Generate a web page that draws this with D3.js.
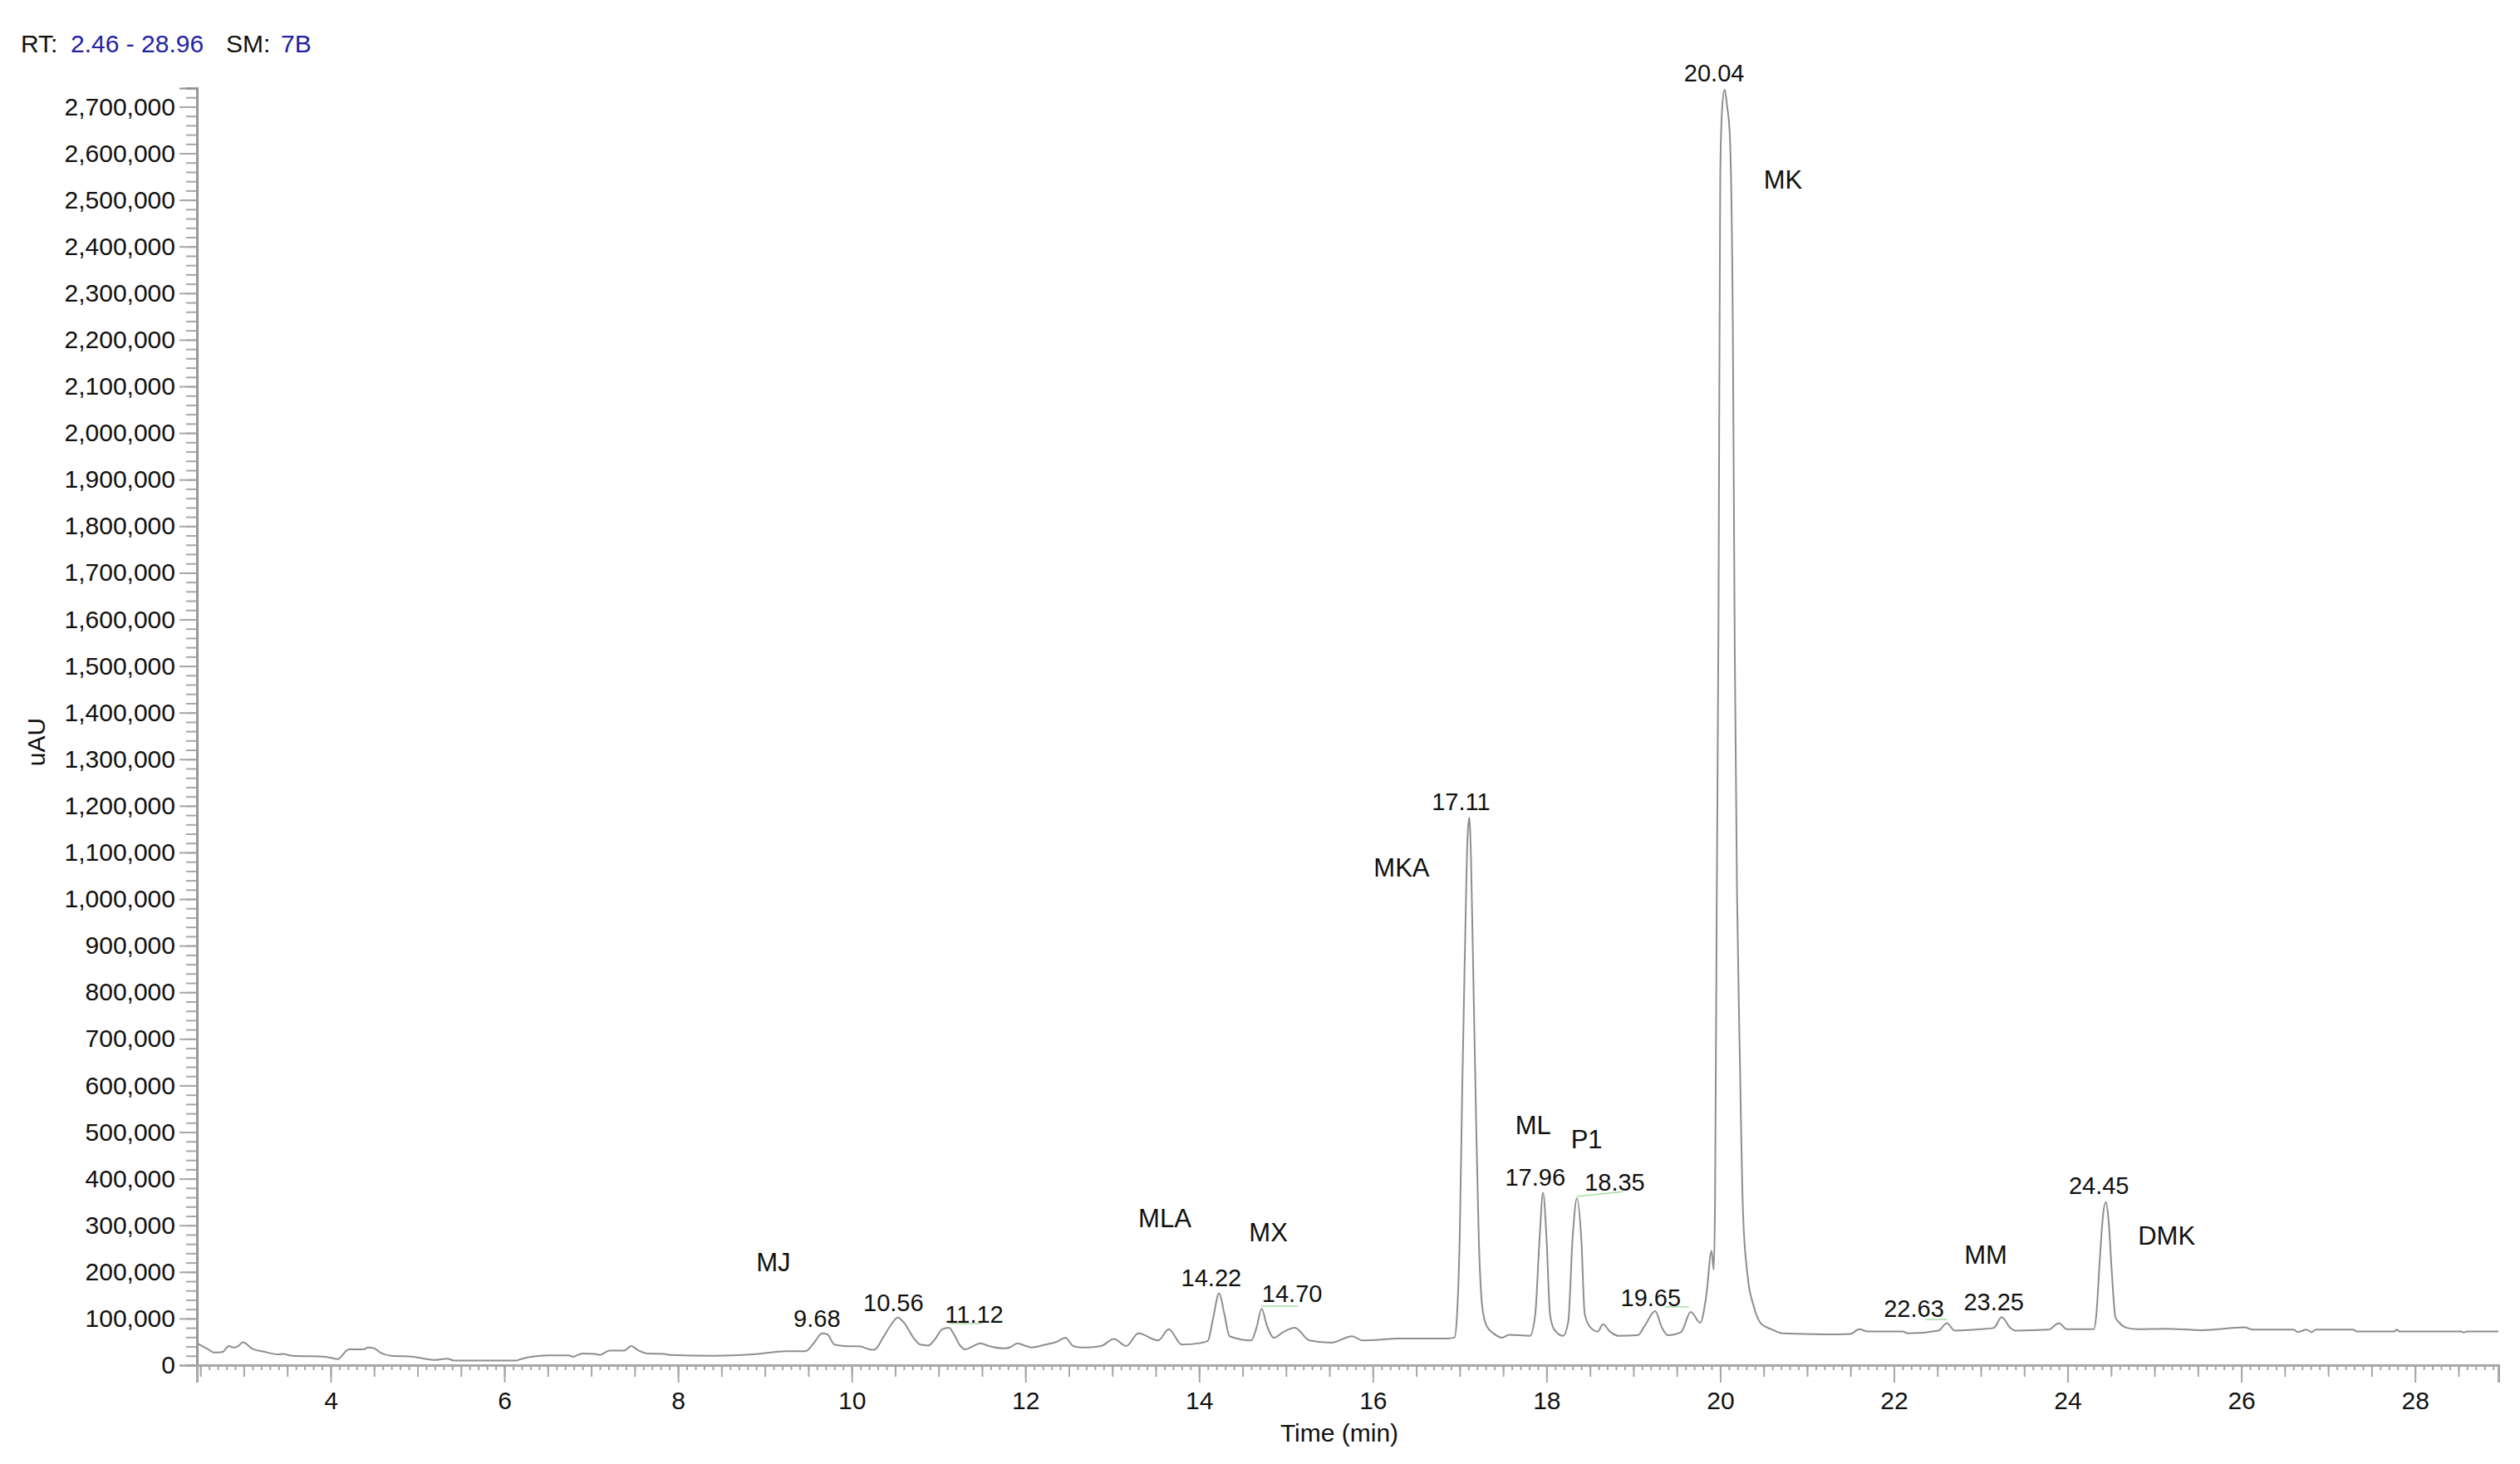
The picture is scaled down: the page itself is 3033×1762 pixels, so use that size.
<!DOCTYPE html>
<html>
<head>
<meta charset="utf-8">
<script src="https://cdn.jsdelivr.net/npm/d3@7"></script>
<style>
  body { margin: 0; background: #fff; }
  text { font-family: "Liberation Sans", Arial, sans-serif; }
</style>
</head>
<body>
<script>
// chromatogram trace: [time (min), uAU]
const trace = [
  [2.46, 47000], [2.58, 35000], [2.66, 27000], [2.75, 28000], [2.83, 41000], [2.88, 38000],
  [2.93, 40000], [2.99, 49000], [3.10, 35000], [3.23, 29000], [3.40, 23000], [3.45, 24000],
  [3.56, 20000], [3.94, 18000], [4.08, 13000], [4.21, 34000], [4.38, 34000], [4.43, 38000],
  [4.50, 36000], [4.57, 27000], [4.70, 20000], [4.95, 18000], [5.20, 11000], [5.34, 14000],
  [5.42, 10000], [6.14, 10000], [6.19, 13000], [6.41, 20000], [6.52, 21000], [6.74, 21000],
  [6.79, 18000], [6.90, 25000], [7.04, 24000], [7.10, 22000], [7.21, 31000], [7.38, 31000],
  [7.46, 41000], [7.54, 32000], [7.65, 25000], [7.84, 24000], [7.90, 22000], [8.42, 20000],
  [8.86, 23000], [9.25, 30000], [9.47, 30000], [9.55, 44000], [9.66, 68000], [9.72, 66000],
  [9.80, 44000], [9.91, 41000], [10.10, 40000], [10.20, 34000], [10.26, 33000], [10.36, 59000],
  [10.45, 86000], [10.53, 102000], [10.61, 89000], [10.71, 59000], [10.79, 44000], [10.88, 42000],
  [10.96, 56000], [11.04, 77000], [11.12, 80000], [11.18, 65000], [11.24, 44000], [11.31, 34000],
  [11.40, 41000], [11.48, 47000], [11.58, 41000], [11.75, 36000], [11.82, 38000], [11.91, 47000],
  [11.99, 42000], [12.07, 38000], [12.23, 44000], [12.36, 50000], [12.46, 59000], [12.55, 41000],
  [12.64, 38000], [12.71, 38000], [12.87, 41000], [13.02, 56000], [13.16, 41000], [13.30, 68000],
  [13.53, 53000], [13.65, 77000], [13.80, 44000], [14.00, 47000], [14.10, 52000], [14.16, 100000],
  [14.23, 154000], [14.29, 110000], [14.35, 62000], [14.60, 53000], [14.66, 80000], [14.72, 121000],
  [14.78, 85000], [14.86, 59000], [14.97, 71000], [15.10, 80000], [15.27, 53000], [15.52, 48000],
  [15.76, 62000], [15.88, 53000], [16.31, 57000], [16.86, 57000], [16.94, 59000], [16.97, 109000],
  [17.00, 272000], [17.03, 599000], [17.06, 886000], [17.09, 1130000], [17.11, 1175000],
  [17.13, 1089000], [17.16, 804000], [17.19, 517000], [17.22, 272000], [17.26, 125000],
  [17.31, 84000], [17.39, 68000], [17.49, 59000], [17.57, 65000], [17.81, 63000], [17.87, 109000],
  [17.92, 272000], [17.96, 370000], [18.00, 272000], [18.04, 109000], [18.09, 76000], [18.19, 63000],
  [18.25, 93000], [18.30, 272000], [18.35, 358000], [18.40, 272000], [18.44, 109000], [18.51, 80000],
  [18.59, 72000], [18.65, 88000], [18.73, 72000], [18.83, 63000], [19.05, 64000], [19.13, 84000],
  [19.25, 116000], [19.33, 80000], [19.40, 64000], [19.55, 71000], [19.66, 114000], [19.77, 91000],
  [19.84, 150000], [19.90, 245000], [19.925, 205000], [19.94, 350000], [19.96, 1000000],
  [19.98, 1600000], [20.00, 2550000], [20.02, 2690000], [20.05, 2737000], [20.08, 2700000],
  [20.11, 2640000], [20.145, 2230000], [20.167, 1540000], [20.193, 1016000], [20.225, 668000],
  [20.263, 323000], [20.32, 184000], [20.38, 130000], [20.47, 89000], [20.59, 77000], [20.72, 68000],
  [21.20, 66000], [21.50, 67000], [21.60, 77000], [21.70, 72000], [22.10, 72000], [22.16, 68000],
  [22.51, 74000], [22.61, 90000], [22.70, 74000], [22.99, 77000], [23.15, 80000], [23.24, 103000],
  [23.34, 80000], [23.40, 74000], [23.78, 76000], [23.90, 90000], [23.99, 77000], [24.30, 77000],
  [24.33, 107000], [24.37, 225000], [24.41, 326000], [24.44, 350000], [24.47, 314000],
  [24.51, 196000], [24.55, 103000], [24.60, 90000], [24.68, 80000], [24.81, 77000], [25.13, 78000],
  [25.55, 75000], [26.03, 81000], [26.14, 76000], [26.60, 76000], [26.65, 71000], [26.75, 76000],
  [26.81, 71000], [26.86, 76000], [27.29, 76000], [27.33, 72000], [27.76, 72000], [27.79, 76000],
  [27.82, 72000], [28.53, 72000], [28.56, 70000], [28.60, 72000], [28.96, 72000]
];

// retention time labels: [text, time, uAU] (label anchor, centred)
const rtLabels = [
  ["9.68", 9.60, 82000], ["10.56", 10.48, 116000], ["11.12", 11.41, 91000],
  ["14.22", 14.14, 169000], ["14.70", 15.07, 135500], ["17.11", 17.015, 1190700],
  ["17.96", 17.87, 385000], ["18.35", 18.785, 374000], ["19.65", 19.20, 126600],
  ["20.04", 19.93, 2754000], ["22.63", 22.23, 103400], ["23.25", 23.15, 117600],
  ["24.45", 24.36, 367000]
];

// compound names: [text, time, uAU] (left anchor)
const compounds = [
  ["MJ", 8.90, 201000], ["MLA", 13.30, 296000], ["MX", 14.575, 265600],
  ["MKA", 16.01, 1048000], ["ML", 17.64, 495500], ["P1", 18.28, 465000],
  ["MK", 20.50, 2524000], ["MM", 22.81, 217500], ["DMK", 24.81, 258000]
];

// faint green label leaders: [t1, v1, t2, v2]
const leaders = [
  [11.13, 89000, 11.50, 89000], [14.71, 126500, 15.14, 126500],
  [18.35, 362000, 18.88, 372000], [19.36, 125000, 19.64, 125000],
  [22.36, 98000, 22.61, 98000]
];

const rtRange = [2.46, 28.96];
const yMax = 2740000;

const outerWidth = 3033;
const outerHeight = 1762;
const margin = {top: 106, left: 237, bottom: 119, right: 26};
const width = outerWidth - margin.left - margin.right;
const height = outerHeight - margin.top - margin.bottom;

const svg = d3.select("body")
    .append("svg")
    .attr("width", outerWidth)
    .attr("height", outerHeight);

const g = svg.append("g")
    .attr("transform", `translate(${margin.left}, ${margin.top})`);

const x = d3.scaleLinear().domain(rtRange).range([0, width]);
const y = d3.scaleLinear().domain([0, yMax]).range([height, 0]);

// header
const header = svg.append("g").attr("font-size", 30);
header.append("text").attr("x", 25).attr("y", 63).attr("fill", "#111").text("RT:");
header.append("text").attr("x", 85).attr("y", 63).attr("fill", "#2323a6")
    .text(`${rtRange[0].toFixed(2)} - ${rtRange[1].toFixed(2)}`);
header.append("text").attr("x", 272).attr("y", 63).attr("fill", "#111").text("SM:");
header.append("text").attr("x", 338).attr("y", 63).attr("fill", "#2323a6").text("7B");

// y axis: minor ticks every 20,000, major every 100,000
const yMinor = g.append("g")
    .call(d3.axisLeft(y).tickValues(d3.range(0, yMax + 1, 20000)).tickSize(13).tickFormat(""));
const yMajor = g.append("g")
    .call(d3.axisLeft(y).tickValues(d3.range(0, yMax + 1, 100000)).tickSize(21).tickPadding(5)
        .tickFormat(d3.format(",")));

// x axis: 0.1 / 0.5 / 2 min ticks
const xt = d3.range(25, 290).map(d => d / 10);
const xMinor = g.append("g").attr("transform", `translate(0, ${height})`)
    .call(d3.axisBottom(x).tickValues(xt).tickSize(6).tickFormat(""));
const xMid = g.append("g").attr("transform", `translate(0, ${height})`)
    .call(d3.axisBottom(x).tickValues(xt.filter(d => Math.abs(d * 2 - Math.round(d * 2)) < 1e-6))
        .tickSize(14).tickFormat(""));
const xMajor = g.append("g").attr("transform", `translate(0, ${height})`)
    .call(d3.axisBottom(x).tickValues(d3.range(4, 29, 2)).tickSize(21).tickPadding(11));

[yMinor, yMajor, xMinor, xMid, xMajor].forEach(a => {
    a.select(".domain").attr("stroke", "#a8a8a8").attr("stroke-width", 3);
    a.selectAll(".tick line").attr("stroke", "#a8a8a8").attr("stroke-width", 2);
    a.selectAll(".tick text").attr("font-size", 30).attr("fill", "#111")
        .attr("font-family", "Liberation Sans, Arial, sans-serif");
});
yMajor.selectAll(".domain").attr("stroke", "#909090").attr("stroke-width", 2);

// axis titles
svg.append("text")
    .attr("x", 1612).attr("y", 1735)
    .attr("text-anchor", "middle").attr("font-size", 30).attr("fill", "#111")
    .text("Time (min)");
svg.append("text")
    .attr("transform", "translate(54, 893) rotate(-90)")
    .attr("text-anchor", "middle").attr("font-size", 30).attr("fill", "#111")
    .text("uAU");

// trace
const line = d3.line()
    .x(d => x(d[0]))
    .y(d => y(d[1]))
    .curve(d3.curveMonotoneX);

g.append("path")
    .datum(trace)
    .attr("d", line)
    .attr("fill", "none")
    .attr("stroke", "#8e8e8e")
    .attr("stroke-width", 2);

// label leaders
g.selectAll(".leader")
    .data(leaders)
    .join("line")
    .attr("class", "leader")
    .attr("x1", d => x(d[0])).attr("y1", d => y(d[1]))
    .attr("x2", d => x(d[2])).attr("y2", d => y(d[3]))
    .attr("stroke", "#a6dca6")
    .attr("stroke-width", 1.5);

// retention time labels
g.selectAll(".rt")
    .data(rtLabels)
    .join("text")
    .attr("class", "rt")
    .attr("x", d => x(d[1]))
    .attr("y", d => y(d[2]))
    .attr("text-anchor", "middle")
    .attr("font-size", 29)
    .attr("fill", "#111")
    .text(d => d[0]);

// compound names
g.selectAll(".cmp")
    .data(compounds)
    .join("text")
    .attr("class", "cmp")
    .attr("x", d => x(d[1]))
    .attr("y", d => y(d[2]))
    .attr("font-family", "Open Sans, sans-serif")
    .attr("font-size", 31)
    .attr("fill", "#111")
    .text(d => d[0]);
</script>
</body>
</html>
